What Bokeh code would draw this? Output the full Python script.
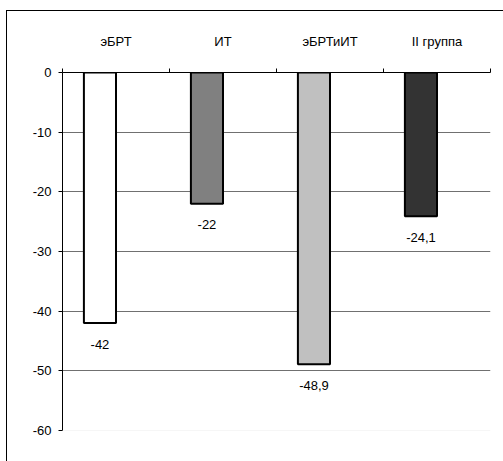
from bokeh.plotting import figure
from bokeh.models import ColumnDataSource, FixedTicker, LinearAxis, Range1d, Span
from bokeh.core.properties import value
from bokeh.embed import file_html
from bokeh.resources import INLINE

categories = ["эБРТ", "ИТ", "эБРТиИТ", "II группа"]
values = [-42, -22, -48.9, -24.1]
value_labels = ["-42", "-22", "-48,9", "-24,1"]
colors = ["#ffffff", "#808080", "#c0c0c0", "#333333"]
y_ticks = [0, -10, -20, -30, -40, -50, -60]
y_tick_labels = ["0", "-10", "-20", "-30", "-40", "-50", "-60"]

FONT = "Liberation Sans"

x_pos = [i + 0.35 for i in range(len(categories))]
src = ColumnDataSource(dict(x=x_pos, top=[0] * len(values), bottom=values,
                            color=colors, lab=value_labels))

p = figure(width=497, height=451, output_backend="svg", toolbar_location=None,
           x_range=Range1d(0, 4), y_range=Range1d(-60, 0),
           x_axis_location=None, y_axis_location=None,
           min_border_left=55, min_border_top=61, min_border_right=14, min_border_bottom=32)
p.margin = (10, 0, 0, 6)
p.styles = {"border-left": "1px solid #000000", "border-top": "1px solid #000000"}
p.outline_line_color = None
p.background_fill_color = "#ffffff"
p.border_fill_color = "#ffffff"

p.xgrid.grid_line_color = None
p.ygrid.ticker = FixedTicker(ticks=[-10, -20, -30, -40, -50])
p.ygrid.grid_line_color = "#707070"
p.ygrid.grid_line_width = 1
p.add_layout(Span(location=-60, dimension="width", line_color="#eeeeee", line_width=1))

p.vbar(x="x", width=0.3, top="top", bottom="bottom", fill_color="color",
       line_color="#000000", line_width=2, source=src)

p.text(x="x", y="bottom", text="lab", source=src, text_align="center",
       text_baseline="middle", y_offset=21, text_font=value(FONT),
       text_font_size="13px", text_color="#000000")

# Left axis
ya = LinearAxis(ticker=FixedTicker(ticks=y_ticks))
ya.major_label_overrides = {t: s for t, s in zip(y_ticks, y_tick_labels)}
ya.major_label_text_font = FONT
ya.major_label_text_font_size = "13px"
ya.major_label_text_color = "#000000"
ya.major_tick_out = 4
ya.major_tick_in = 0
ya.minor_tick_out = 0
ya.minor_tick_in = 0
ya.axis_line_color = "#000000"
ya.major_tick_line_color = "#000000"
ya.major_label_standoff = 7
p.add_layout(ya, "left")

# Top axis with category labels
xa = LinearAxis(ticker=FixedTicker(ticks=[0.5, 1.5, 2.5, 3.5], minor_ticks=[0, 1, 2, 3, 4]))
xa.major_label_overrides = {0.5: categories[0], 1.5: categories[1], 2.5: categories[2], 3.5: categories[3]}
xa.major_label_text_font = FONT
xa.major_label_text_font_size = "13px"
xa.major_label_text_color = "#000000"
xa.major_tick_out = 0
xa.major_tick_in = 0
xa.minor_tick_out = 4
xa.minor_tick_in = 0
xa.minor_tick_line_color = "#000000"
xa.axis_line_color = "#000000"
xa.major_label_standoff = 20
p.add_layout(xa, "above")

open("out.html", "w").write(file_html(p, INLINE))
